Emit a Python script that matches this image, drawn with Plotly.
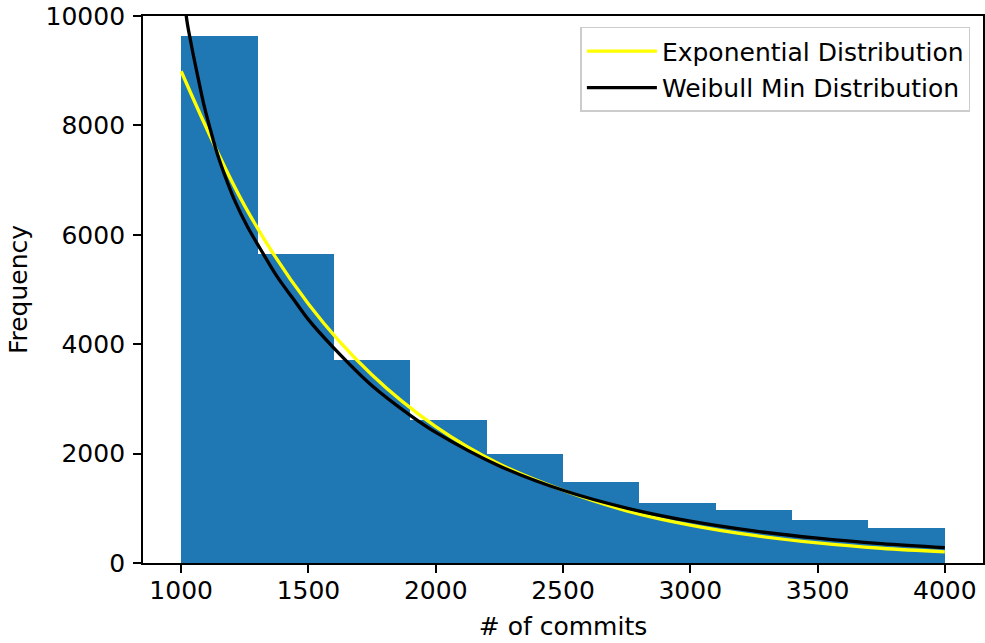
import plotly.graph_objects as go

# Histogram (bin edges and counts)
bin_edges = [1000, 1300, 1600, 1900, 2200, 2500, 2800, 3100, 3400, 3700, 4000]
counts = [9630, 5650, 3720, 2620, 2000, 1480, 1100, 970, 780, 640]

# Exponential fit curve
exp_x = [1000, 1250, 1500, 1750, 2000, 2250, 2500, 2750, 3000, 3250, 3500, 3750, 4000]
exp_y = [8990, 6525, 4736, 3437, 2495, 1811, 1330, 954, 692, 503, 368, 270, 205]

# Weibull Min fit curve
wei_x = [1000, 1010, 1020, 1040, 1065, 1090, 1115, 1140, 1175, 1210, 1260, 1310, 1375,
         1440, 1500, 1600, 1750, 1900, 2000, 2250, 2500, 2750, 3000, 3250, 3500, 3750, 4000]
wei_y = [11800, 10750, 10000, 9470, 8900, 8360, 7920, 7510, 7040, 6630, 6150, 5750, 5250,
         4830, 4450, 3930, 3241, 2700, 2389, 1775, 1329, 1004, 764, 586, 453, 353, 280]

x_ticks = [1000, 1500, 2000, 2500, 3000, 3500, 4000]
y_ticks = [0, 2000, 4000, 6000, 8000, 10000]

centers = [(a + b) / 2 for a, b in zip(bin_edges[:-1], bin_edges[1:])]
widths = [b - a for a, b in zip(bin_edges[:-1], bin_edges[1:])]

FONT = "DejaVu Sans"
FS = 25

fig = go.Figure()
fig.add_trace(go.Bar(x=centers, y=counts, width=widths, marker=dict(color="#1f77b4", line=dict(width=0)),
                     showlegend=False, hoverinfo="skip"))
fig.add_trace(go.Scatter(x=exp_x, y=exp_y, mode="lines", name="Exponential Distribution",
                         legendgroup="a",
                         line=dict(color="#ffff00", width=3.3, shape="spline", smoothing=1.0)))
fig.add_trace(go.Scatter(x=wei_x, y=wei_y, mode="lines", name="Weibull Min Distribution",
                         legendgroup="b",
                         line=dict(color="black", width=3.3, shape="spline", smoothing=1.0)))

axis_common = dict(showgrid=False, zeroline=False, showline=True, linecolor="black", linewidth=1.8,
                   mirror=True, ticks="outside", ticklen=8, tickwidth=1.8, tickcolor="black",
                   automargin=False, ticklabeloverflow="allow",
                   tickfont=dict(family=FONT, size=FS, color="black"))

fig.update_xaxes(range=[850, 4150], tickvals=x_ticks, ticktext=[str(v) for v in x_ticks],
                 ticklabelstandoff=-4,
                 title=dict(text="# of commits", font=dict(family=FONT, size=FS, color="black"), standoff=14),
                 **axis_common)
fig.update_yaxes(range=[0, 10000], tickvals=y_ticks, ticktext=[str(v) for v in y_ticks],
                 ticklabelstandoff=3,
                 title=dict(text="Frequency", font=dict(family=FONT, size=FS, color="black"), standoff=11),
                 **axis_common)

fig.update_layout(
    width=985, height=643,
    margin=dict(l=143, r=2, t=16, b=80),
    paper_bgcolor="white", plot_bgcolor="white",
    bargap=0,
    font=dict(family=FONT, size=FS, color="black"),
    legend=dict(x=0.985, y=0.98, xanchor="right", yanchor="top",
                bgcolor="rgba(255,255,255,0.8)", bordercolor="#cccccc", borderwidth=1.5,
                font=dict(family=FONT, size=FS, color="black"), itemwidth=70, tracegroupgap=1),
)

# remove the default page margin so the figure sits at the window's top-left corner
fig.write_html("out.html", config={"displayModeBar": False},
               post_script="document.body.style.margin='0';")
